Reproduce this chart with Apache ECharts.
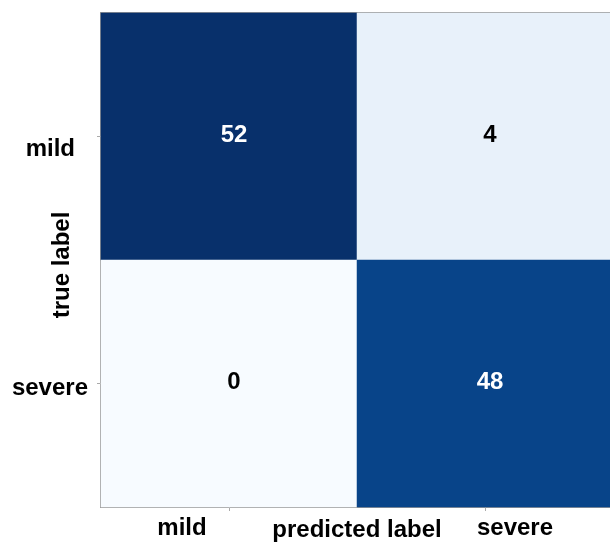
<!DOCTYPE html>
<html>
<head>
<meta charset="utf-8">
<style>
  html, body { margin: 0; padding: 0; background: #fff; }
  #chart { width: 610px; height: 545px; }
</style>
<script src="https://cdn.jsdelivr.net/npm/echarts@6/dist/echarts.min.js"></script>
</head>
<body>
<div id="chart"></div>
<script>
// confusion matrix: rows = true label, cols = predicted label
const predictedLabels = ['mild', 'severe']
const trueLabels = ['mild', 'severe']
const mildRow = [52, 4]
const severeRow = [0, 48]

const blues = ['#f7fbff', '#deebf7', '#c6dbef', '#9ecae1', '#6baed6', '#4292c6', '#2171b5', '#08519c', '#08306b']
const font = 'Liberation Sans, Arial, sans-serif'

const rows = [mildRow, severeRow]
const maxVal = Math.max(...mildRow, ...severeRow)
const cells = []
rows.forEach((row, yi) => {
  row.forEach((v, xi) => {
    cells.push({
      value: [xi, yi, v],
      label: { color: v > maxVal / 2 ? '#fff' : '#000' }
    })
  })
})

const chart = echarts.init(document.getElementById('chart'))
chart.setOption({
  animation: false,
  backgroundColor: '#fff',
  grid: {
    left: 101, top: 13, width: 512, height: 494,
    containLabel: false,
    outerBoundsMode: 'none',
    show: true, borderColor: '#9a9a9a', borderWidth: 2
  },
  xAxis: {
    type: 'category',
    data: predictedLabels,
    name: 'predicted label',
    nameLocation: 'middle',
    nameGap: 11,
    nameMoveOverlap: false,
    nameTextStyle: { fontFamily: font, fontWeight: 'bold', fontSize: 24, color: '#000', verticalAlign: 'top' },
    axisLine: { show: true, lineStyle: { color: '#9a9a9a', width: 2 } },
    axisTick: { show: true, alignWithLabel: true, length: 4, lineStyle: { color: '#aaa' } },
    axisLabel: {
      margin: 9,
      formatter: v => '{' + (v === 'mild' ? 'a' : 'b') + '|' + v + '}',
      rich: {
        a: { fontFamily: font, fontWeight: 'bold', fontSize: 24, color: '#000', padding: [0, 94, 0, 0] },
        b: { fontFamily: font, fontWeight: 'bold', fontSize: 24, color: '#000', padding: [0, 0, 0, 60] }
      }
    },
    splitLine: { show: false }
  },
  yAxis: {
    type: 'category',
    data: trueLabels,
    inverse: true,
    name: 'true label',
    nameLocation: 'middle',
    nameGap: 27,
    nameRotate: 90,
    nameMoveOverlap: false,
    nameTextStyle: { fontFamily: font, fontWeight: 'bold', fontSize: 24, color: '#000', padding: [0, 10, 0, 0] },
    axisLine: { show: true, lineStyle: { color: '#9a9a9a', width: 2 } },
    axisTick: { show: true, alignWithLabel: true, length: 4, lineStyle: { color: '#aaa' } },
    axisLabel: {
      margin: 13,
      formatter: v => '{' + (v === 'mild' ? 'a' : 'b') + '|' + v + '}',
      rich: {
        a: { fontFamily: font, fontWeight: 'bold', fontSize: 24, color: '#000', padding: [26, 13, 0, 0] },
        b: { fontFamily: font, fontWeight: 'bold', fontSize: 24, color: '#000', padding: [10, 0, 0, 0] }
      }
    },
    splitLine: { show: false }
  },
  visualMap: {
    show: false,
    min: 0,
    max: maxVal,
    calculable: false,
    inRange: { color: blues }
  },
  series: [{
    type: 'heatmap',
    data: cells,
    label: {
      show: true,
      formatter: p => p.value[2],
      fontFamily: font,
      fontWeight: 'bold',
      fontSize: 24,
      offset: [5, -1]
    },
    itemStyle: { borderWidth: 0 },
    emphasis: { disabled: true }
  }]
})
window.addEventListener('resize', () => chart.resize())
</script>
</body>
</html>
